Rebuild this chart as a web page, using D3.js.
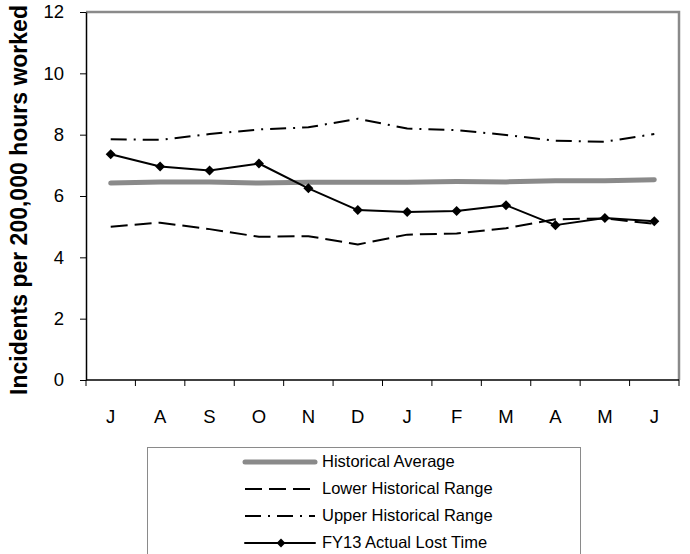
<!DOCTYPE html>
<html>
<head>
<meta charset="utf-8">
<script src="https://cdn.jsdelivr.net/npm/d3@7"></script>
<style>
  html, body { margin: 0; padding: 0; background: #fff; }
  svg { display: block; font-family: "Liberation Sans", Arial, sans-serif; }
</style>
</head>
<body>
<svg id="chart" width="690" height="554"></svg>
<script>
// Months of the fiscal year (July to June)
const months = ["J", "A", "S", "O", "N", "D", "J", "F", "M", "A", "M", "J"];

// Incidents per 200,000 hours worked
const historicalAverage = [6.42, 6.46, 6.46, 6.42, 6.45, 6.45, 6.45, 6.47, 6.46, 6.50, 6.50, 6.53];
const lowerRange        = [5.00, 5.13, 4.92, 4.67, 4.69, 4.42, 4.74, 4.78, 4.95, 5.24, 5.27, 5.09];
const upperRange        = [7.85, 7.83, 8.02, 8.17, 8.24, 8.52, 8.20, 8.15, 7.99, 7.80, 7.77, 8.02];
const actualLostTime    = [7.36, 6.96, 6.83, 7.06, 6.25, 5.54, 5.48, 5.51, 5.70, 5.05, 5.28, 5.18];

const yTicks = [0, 2, 4, 6, 8, 10, 12];
const yTitle = "Incidents per 200,000 hours worked";

const series = [
  { name: "Historical Average",     values: historicalAverage, color: "#8a8a8a", width: 5, dash: null,        marker: false },
  { name: "Lower Historical Range", values: lowerRange,        color: "#000",    width: 2, dash: "17,7",      marker: false },
  { name: "Upper Historical Range", values: upperRange,        color: "#000",    width: 2, dash: "16,7,2,7",  marker: false },
  { name: "FY13 Actual Lost Time",  values: actualLostTime,    color: "#000",    width: 2, dash: null,        marker: true }
];

const svg = d3.select("#chart");
const plot = { left: 86, right: 679, top: 12, bottom: 380 };

const x = d3.scaleBand()
  .domain(d3.range(months.length))
  .range([plot.left, plot.right])
  .paddingInner(0).paddingOuter(0);

const y = d3.scaleLinear()
  .domain([0, 12])
  .range([plot.bottom, plot.top]);

const cx = i => x(i) + x.bandwidth() / 2;

// Plot area frame (grey top and right edges)
svg.append("path")
  .attr("d", `M${plot.left},${plot.top}H${plot.right}V${plot.bottom}`)
  .attr("fill", "none")
  .attr("stroke", "#8a8a8a")
  .attr("stroke-width", 2.5);

// Series lines
const line = d3.line()
  .x((d, i) => cx(i))
  .y(d => y(d));

const gSeries = svg.append("g");
series.forEach(s => {
  gSeries.append("path")
    .datum(s.values)
    .attr("d", line)
    .attr("fill", "none")
    .attr("stroke", s.color)
    .attr("stroke-width", s.width)
    .attr("stroke-dasharray", s.dash)
    .attr("stroke-linejoin", "round")
    .attr("stroke-linecap", s.dash ? "butt" : "round");
  if (s.marker) {
    gSeries.selectAll(null)
      .data(s.values)
      .join("path")
      .attr("d", d3.symbol(d3.symbolDiamond2, 64))
      .attr("transform", (d, i) => `translate(${cx(i)},${y(d)})`)
      .attr("fill", "#000");
  }
});

// Y axis
const yAxis = svg.append("g")
  .attr("transform", `translate(${plot.left},0)`)
  .call(d3.axisLeft(y).tickValues(yTicks).tickSize(6).tickPadding(16).tickSizeOuter(0));
yAxis.select(".domain").attr("stroke", "#000").attr("stroke-width", 1.5);
yAxis.selectAll(".tick line").attr("stroke", "#000");
yAxis.selectAll(".tick text")
  .attr("font-family", "Liberation Sans, Arial, sans-serif")
  .attr("font-size", 18.5)
  .attr("fill", "#000");

// X axis: ticks at the boundaries between months
const xAxis = svg.append("g")
  .attr("transform", `translate(0,${plot.bottom})`);
xAxis.append("line")
  .attr("x1", plot.left).attr("x2", plot.right)
  .attr("stroke", "#000").attr("stroke-width", 1.5);
const edges = d3.range(months.length + 1).map(i => i < months.length ? x(i) : x(months.length - 1) + x.bandwidth());
xAxis.selectAll(".edge")
  .data(edges)
  .join("line")
  .attr("x1", d => d).attr("x2", d => d)
  .attr("y1", 0).attr("y2", 6)
  .attr("stroke", "#000");
xAxis.selectAll(".month")
  .data(months)
  .join("text")
  .attr("x", (d, i) => cx(i))
  .attr("y", 43)
  .attr("text-anchor", "middle")
  .attr("font-size", 18.5)
  .attr("fill", "#000")
  .text(d => d);

// Y axis title
svg.append("text")
  .attr("transform", `translate(27,${(plot.top + plot.bottom) / 2 + 4}) rotate(-90)`)
  .attr("text-anchor", "middle")
  .attr("font-size", 23)
  .attr("font-weight", "bold")
  .attr("fill", "#000")
  .text(yTitle);

// Legend
const legend = svg.append("g");
legend.append("rect")
  .attr("x", 147.5).attr("y", 447.5)
  .attr("width", 433).attr("height", 130)
  .attr("fill", "#fff")
  .attr("stroke", "#8a8a8a")
  .attr("stroke-width", 1);

const rowY = [462, 489, 516, 543];
series.forEach((s, i) => {
  const g = legend.append("g").attr("transform", `translate(0,${rowY[i]})`);
  g.append("line")
    .attr("x1", 245).attr("x2", 315)
    .attr("stroke", s.color)
    .attr("stroke-width", s.width)
    .attr("stroke-dasharray", s.dash)
    .attr("stroke-linecap", s.dash ? "butt" : "round");
  if (s.marker) {
    g.append("path")
      .attr("d", d3.symbol(d3.symbolDiamond2, 50))
      .attr("transform", "translate(281,0)")
      .attr("fill", "#000");
  }
  g.append("text")
    .attr("x", 322)
    .attr("y", 5)
    .attr("font-size", 16.5)
    .attr("fill", "#000")
    .text(s.name);
});
</script>
</body>
</html>
